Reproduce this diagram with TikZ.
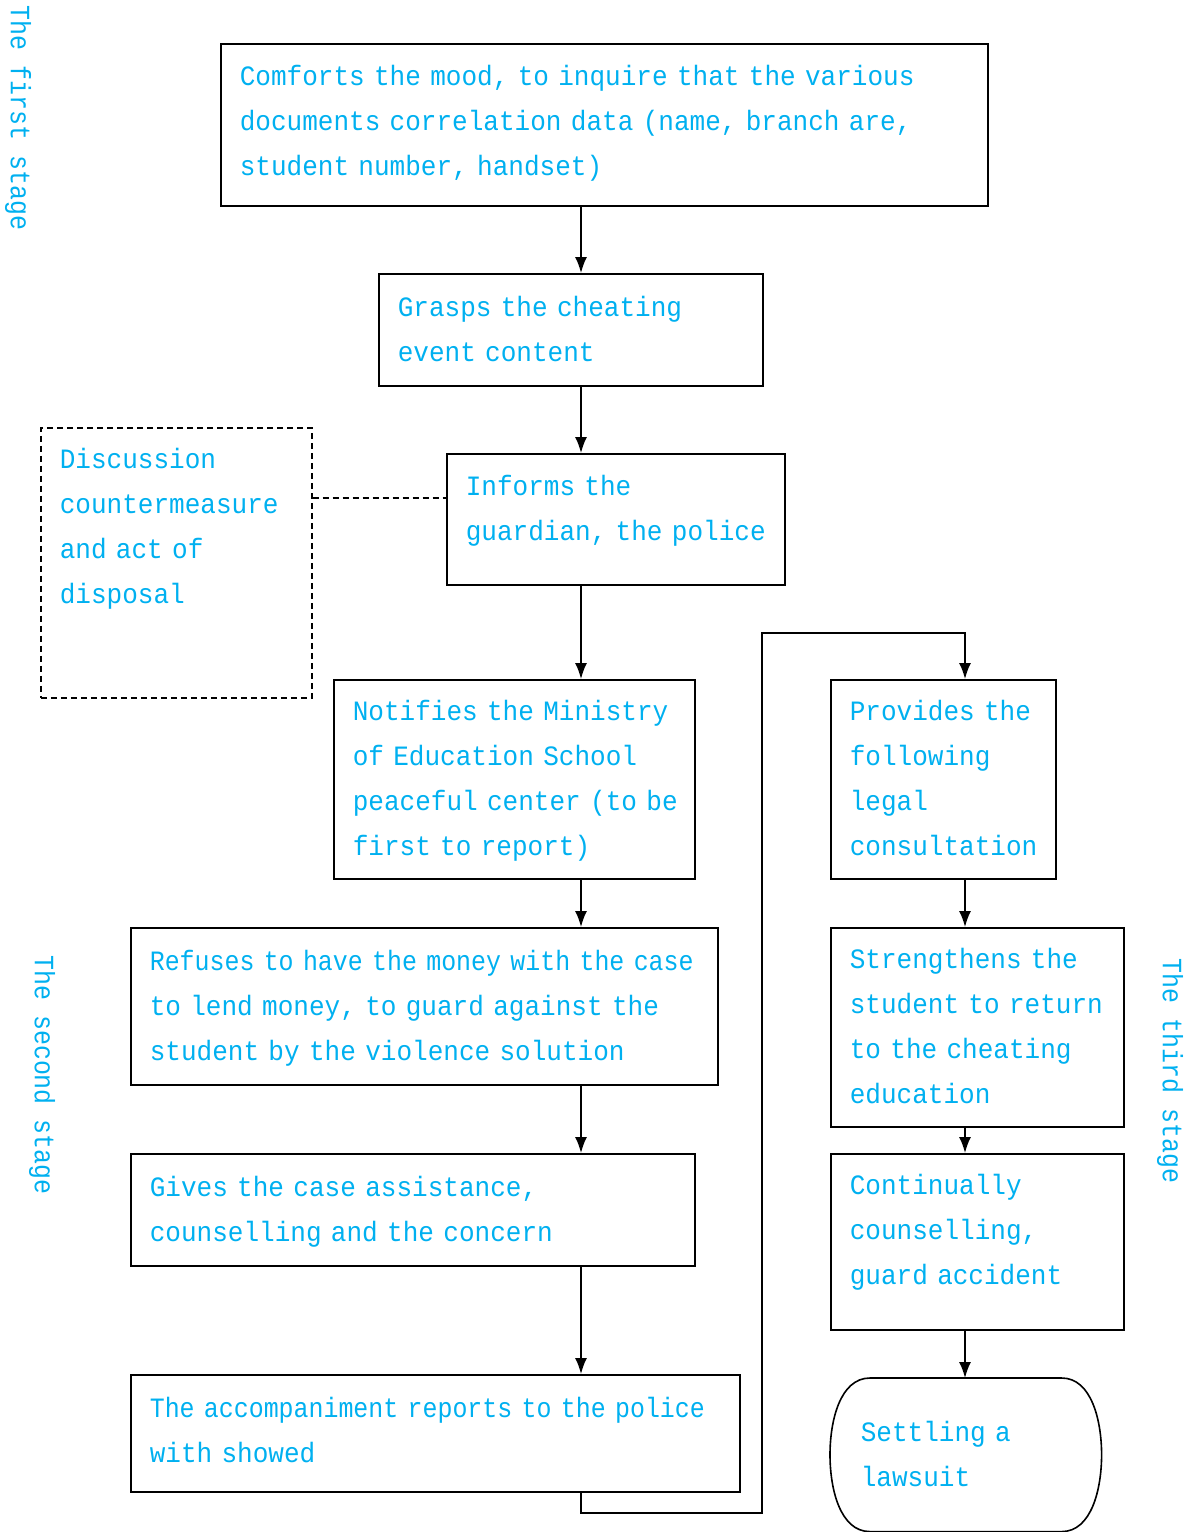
\documentclass[tikz,border=0pt]{standalone}
\usepackage{fontspec}
\usetikzlibrary{arrows.meta,calc}
\newfontfamily\boxfont[FakeStretch=0.93]{Liberation Mono}
\newfontfamily\tightfont[FakeStretch=0.89]{Liberation Mono}
\definecolor{stageblue}{RGB}{0,176,240}
\newcommand{\boxtext}{\boxfont\fontsize{28}{45}\selectfont}
\newcommand{\stagetext}{\tightfont\fontsize{28}{45}\selectfont}
\newcommand{\lines}[1]{\begin{tabular}{@{}l@{}}#1\end{tabular}}

\begin{document}
\begin{tikzpicture}[x=1pt, y=-1pt,
    stepbox/.style={draw, line width=1.6pt, anchor=north west, inner xsep=19pt, inner ysep=0pt, font=\boxtext, text=stageblue},
    stage/.style={font=\stagetext, text=stageblue, rotate=-90, inner sep=0pt},
    arrow/.style={-{Latex[length=16pt,width=12pt]}, line width=1.6pt},
    link/.style={line width=1.6pt, dash pattern=on 6pt off 4pt}
]
    \useasboundingbox (0,0) rectangle (1193,1532);

    \node[stage] (first) at (18,118) {The first stage};
    \node[stage] (second) at (42,1075) {The second stage};
    \node[stage] (third) at (1170,1071) {The third stage};

    \node[stepbox, minimum width=767pt, minimum height=162pt, text width=729pt] (comfort) at (220,43) {\lines{Comforts the mood, to inquire that the various\\documents correlation data (name, branch are,\\student number, handset)\\[6pt]}};
    \node[stepbox, minimum width=384pt, minimum height=112pt, text width=346pt] (grasp) at (378,273) {\lines{Grasps the cheating\\event content}};
    \node[stepbox, link, minimum width=271pt, minimum height=270pt, text width=233pt] (discuss) at (40,427) {\lines{Discussion\\countermeasure\\and act of\\disposal\\[71pt]}};
    \node[stepbox, minimum width=338pt, minimum height=131pt, text width=300pt] (inform) at (446,453) {\lines{Informs the\\guardian, the police\\[20pt]}};
    \node[stepbox, minimum width=361pt, minimum height=199pt, text width=323pt] (notify) at (333,679) {\lines{Notifies the Ministry\\of Education School\\peaceful center (to be\\first to report)}};
    \node[stepbox, minimum width=587pt, minimum height=157pt, text width=549pt] (refuse) at (130,927) {\lines{{\tightfont Refuses to have the money with the case}\\to lend money, to guard against the\\student by the violence solution}};
    \node[stepbox, minimum width=564pt, minimum height=112pt, text width=526pt] (assist) at (130,1153) {\lines{Gives the case assistance,\\counselling and the concern}};
    \node[stepbox, minimum width=609pt, minimum height=117pt, text width=571pt] (report) at (130,1374) {\lines{{\tightfont The accompaniment reports to the police}\\with showed\\[4pt]}};

    % third stage column
    \node[stepbox, minimum width=225pt, minimum height=199pt, text width=187pt] (legal) at (830,679) {\lines{Provides the\\following\\legal\\consultation}};
    \node[stepbox, minimum width=293pt, minimum height=199pt, text width=255pt] (educate) at (830,927) {\lines{Strengthens the\\student to return\\to the cheating\\education}};
    \node[stepbox, minimum width=293pt, minimum height=176pt, text width=255pt] (guard) at (830,1153) {\lines{Continually\\counselling,\\guard accident\\[22pt]}};
    \node[stepbox, draw=none, minimum width=270pt, minimum height=152pt, text width=210pt, inner xsep=30pt] (lawsuit) at (830,1378) {\lines{Settling a\\lawsuit}};
    \draw[line width=1.6pt] ($(lawsuit.north west)+(40,0)$) -- ($(lawsuit.north east)+(-40,0)$)
        .. controls ($(lawsuit.north east)+(-10,0)$) and ($(lawsuit.east)+(0,-34)$) .. (lawsuit.east)
        .. controls ($(lawsuit.east)+(0,34)$) and ($(lawsuit.south east)+(-10,0)$) .. ($(lawsuit.south east)+(-40,0)$)
        -- ($(lawsuit.south west)+(40,0)$)
        .. controls ($(lawsuit.south west)+(10,0)$) and ($(lawsuit.west)+(0,34)$) .. (lawsuit.west)
        .. controls ($(lawsuit.west)+(0,-34)$) and ($(lawsuit.north west)+(10,0)$) .. ($(lawsuit.north west)+(40,0)$) -- cycle;

    \coordinate (xm) at (581,0);
    \coordinate (xr) at (965,0);
    \coordinate (dl) at (0,498);
    \coordinate (lowr) at (762,1513);
    \coordinate (upr) at (762,633);

    \draw[arrow] (comfort.south -| xm) -- (grasp.north -| xm);
    \draw[arrow] (grasp.south -| xm) -- (inform.north -| xm);
    \draw[arrow] (inform.south -| xm) -- (notify.north -| xm);
    \draw[arrow] (notify.south -| xm) -- (refuse.north -| xm);
    \draw[arrow] (refuse.south -| xm) -- (assist.north -| xm);
    \draw[arrow] (assist.south -| xm) -- (report.north -| xm);
    \draw[link] (discuss.east |- dl) -- (inform.west |- dl);
    \draw[arrow] (report.south -| xm) |- (lowr) -- (upr) -| (legal.north -| xr);
    \draw[arrow] (legal.south -| xr) -- (educate.north -| xr);
    \draw[arrow] (educate.south -| xr) -- (guard.north -| xr);
    \draw[arrow] (guard.south -| xr) -- (lawsuit.north -| xr);
\end{tikzpicture}
\end{document}
